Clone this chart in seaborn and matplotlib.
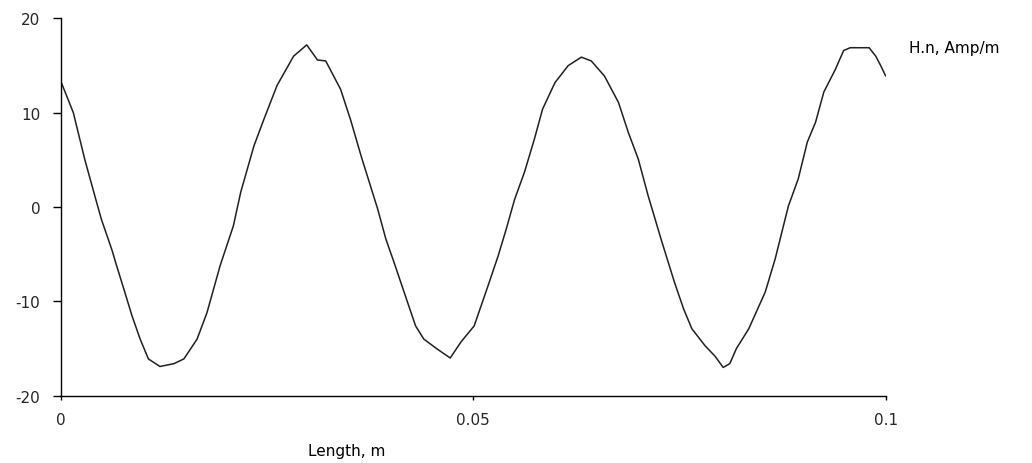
import numpy as np
import pandas as pd
import seaborn as sns
import matplotlib
matplotlib.use("Agg")
import matplotlib.pyplot as plt

# ============================================
# DATA
# ============================================

length_m = [
    0.0000, 0.0015, 0.0029, 0.0041, 0.0049, 0.0062, 0.0066, 0.0078, 0.0086, 0.0096,
    0.0106, 0.0120, 0.0137, 0.0149, 0.0165, 0.0177, 0.0193, 0.0209, 0.0218, 0.0234,
    0.0246, 0.0262, 0.0282, 0.0298, 0.0311, 0.0321, 0.0339, 0.0351, 0.0364, 0.0384,
    0.0394, 0.0404, 0.0416, 0.0430, 0.0440, 0.0457, 0.0472, 0.0485, 0.0501, 0.0518,
    0.0530, 0.0540, 0.0550, 0.0562, 0.0574, 0.0584, 0.0599, 0.0615, 0.0631, 0.0643,
    0.0659, 0.0676, 0.0688, 0.0700, 0.0712, 0.0728, 0.0744, 0.0755, 0.0765, 0.0781,
    0.0793, 0.0803, 0.0811, 0.0819, 0.0834, 0.0854, 0.0866, 0.0874, 0.0882, 0.0894,
    0.0905, 0.0915, 0.0925, 0.0939, 0.0949, 0.0957, 0.0980, 0.0988, 0.0994, 0.1000,
]

h_n = [
    13.3, 10.0, 5.0, 1.2, -1.3, -4.6, -5.8, -9.2, -11.5, -14.0,
    -16.1, -16.9, -16.6, -16.1, -14.0, -11.2, -6.2, -2.0, 1.6, 6.5,
    9.3, 12.9, 16.0, 17.2, 15.6, 15.5, 12.5, 9.3, 5.4, -0.2,
    -3.4, -5.9, -9.0, -12.6, -14.0, -15.1, -16.0, -14.3, -12.6, -8.3,
    -5.2, -2.3, 0.8, 3.7, 7.2, 10.4, 13.2, 15.0, 15.9, 15.5,
    13.9, 11.1, 7.9, 5.1, 1.2, -3.5, -8.0, -10.8, -12.9, -14.7,
    -15.8, -17.0, -16.6, -15.0, -12.9, -9.0, -5.5, -2.7, 0.1, 3.0,
    6.9, 9.0, 12.2, 14.6, 16.6, 16.9, 16.9, 16.0, 15.0, 13.9,
]

y_ticks = [-20, -10, 0, 10, 20]
y_tick_labels = ["-20", "-10", "0", "10", "20"]
x_ticks = [0, 0.05, 0.1]
x_tick_labels = ["0", "0.05", "0.1"]

df = pd.DataFrame({"Length": length_m, "H": h_n})

# ============================================
# THEME
# ============================================

sns.set_theme(style="white")
plt.rcParams["font.family"] = ["DejaVu Sans"]

fig = plt.figure(figsize=(10.32, 4.64), dpi=100)
ax = fig.add_axes([0.0591, 0.145, 0.7991, 0.813])

sns.lineplot(
    data=df,
    x="Length",
    y="H",
    color="#202020",
    linewidth=1.1,
    ax=ax
)

ax.set_xlim(0, 0.1)
ax.set_ylim(-20, 20)
ax.set_xticks(x_ticks)
ax.set_xticklabels(x_tick_labels)
ax.set_yticks(y_ticks)
ax.set_yticklabels(y_tick_labels)

for side in ["top", "right"]:
    ax.spines[side].set_visible(False)
for side in ["left", "bottom"]:
    ax.spines[side].set_color("black")
    ax.spines[side].set_linewidth(1.0)

ax.tick_params(axis="y", direction="out", length=6, width=1, color="black",
               labelsize=11, pad=9, left=True)
ax.tick_params(axis="x", direction="out", length=3, width=1, color="black",
               labelsize=11, pad=9, bottom=True)

ax.set_xlabel("")
ax.set_ylabel("")

fig.text(308 / 1032, 1 - 452 / 464, "Length, m", ha="left", va="center",
         fontsize=11, color="black")
fig.text(909 / 1032, 1 - 48 / 464, "H.n, Amp/m", ha="left", va="center",
         fontsize=11, color="black")

fig.savefig("out.png", dpi=100)
plt.close(fig)
